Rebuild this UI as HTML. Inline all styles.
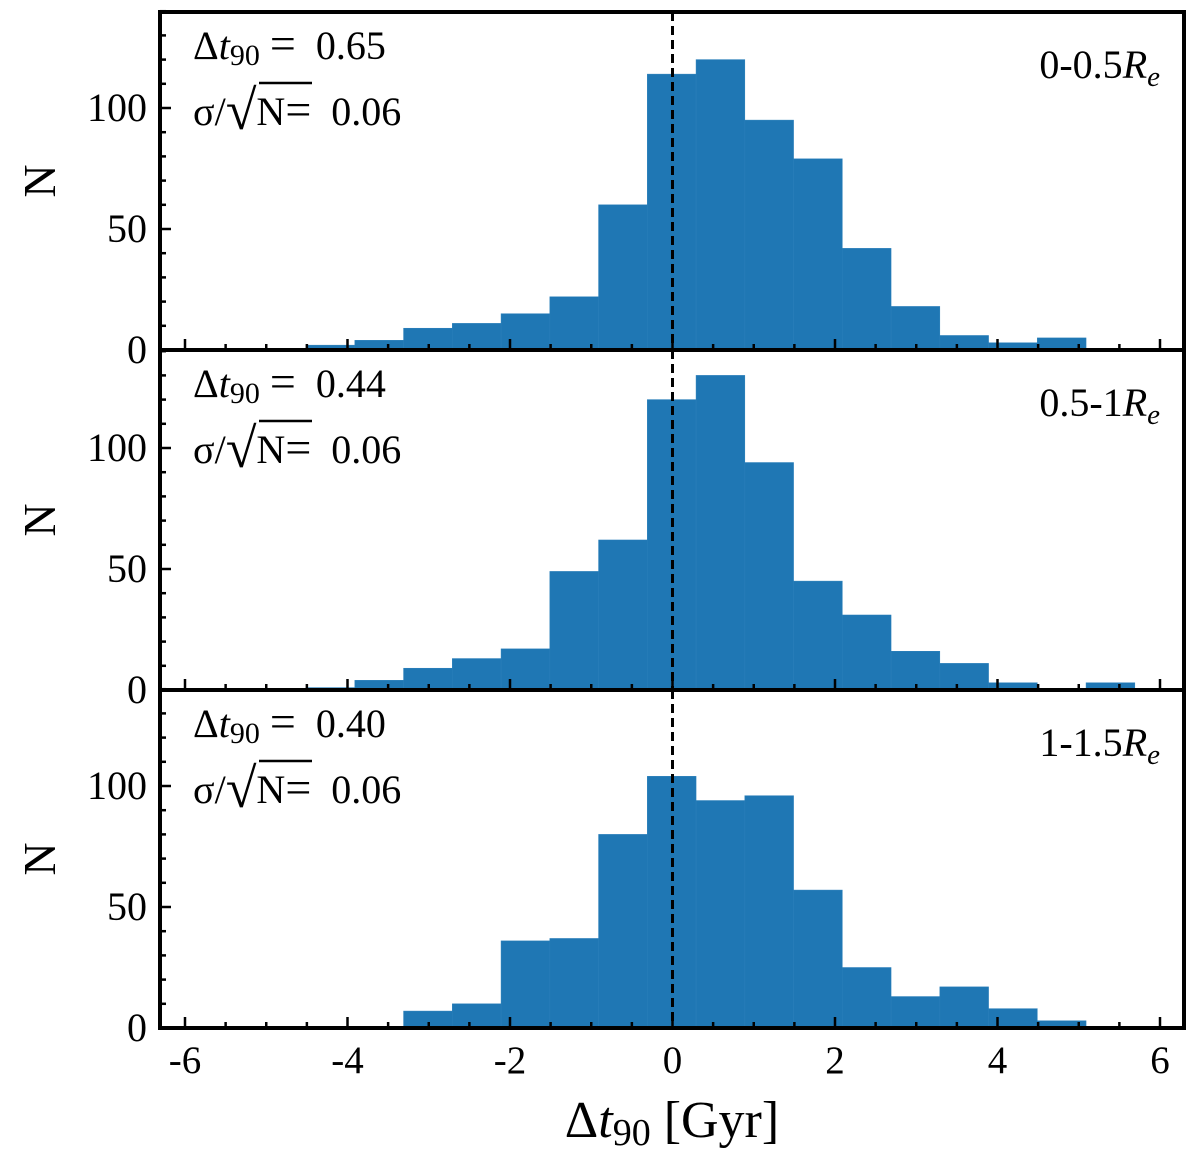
<!DOCTYPE html>
<html><head><meta charset="utf-8"><style>
body{margin:0;background:#fff}
svg text{font-family:"Liberation Serif",serif;fill:#000;white-space:pre}
</style></head><body>
<svg id="c" width="1200" height="1160" xmlns="http://www.w3.org/2000/svg"></svg>
<script>
const binStart = -4.51;
const binWidth = 0.6;
const countsInner = [2,4,9,11,15,22,60,114,120,95,79,42,18,6,3,5];
const countsMid = [1,4,9,13,17,49,62,120,130,94,45,31,16,11,3,0,3];
const countsOuter = [0,0,7,10,36,37,80,104,94,96,57,25,13,17,8,3];
const panelLabels = ["0-0.5","0.5-1","1-1.5"];
const medians = ["0.65","0.44","0.40"];
const errors = ["0.06","0.06","0.06"];
const xTicks = [-6,-4,-2,0,2,4,6];
const yTicks = [0,50,100];

const NS="http://www.w3.org/2000/svg";
const svg=document.getElementById('c');
function mk(t,a,p){const e=document.createElementNS(NS,t);for(const k in a)e.setAttribute(k,a[k]);(p||svg).appendChild(e);return e;}
const X0=160,X1=1184;
const xs=v=>672.5+v*81.25;
const panels=[{top:12,bot:350,data:countsInner},{top:350,bot:690,data:countsMid},{top:690,bot:1028,data:countsOuter}];
const ppu=2.42;
const NB='\u00a0';
panels.forEach((p,i)=>{
  const g=mk('g',{});
  
  
  const ys=v=>p.bot-v*ppu;
  p.data.forEach((c,j)=>{
    if(c<=0)return;
    const x0=xs(binStart+j*binWidth),x1=xs(binStart+(j+1)*binWidth);
    const r=mk('rect',{x:x0,y:ys(c),width:x1-x0,height:c*ppu,fill:'#1f77b4',stroke:'#2a7fba','stroke-width':0.5},g);
    
    
  });
  const d=mk('line',{x1:xs(0),x2:xs(0),y1:p.top,y2:p.bot,stroke:'#000','stroke-width':3,'stroke-dasharray':'9,5'},g);
  
  
  for(let v=-6;v<=6.001;v+=0.5){
    const maj=Math.abs(v%2)<1e-6;
    mk('line',{x1:xs(v),x2:xs(v),y1:p.bot,y2:p.bot-(maj?11:6),stroke:'#000','stroke-width':2.5},g);
  }
  for(let v=0;v<=140;v+=10){
    const maj=v%50===0;
    mk('line',{x1:X0,x2:X0+(maj?11:6),y1:ys(v),y2:ys(v),stroke:'#000','stroke-width':2.5},g);
  }
  yTicks.forEach(v=>{
    const t=mk('text',{x:147,y:ys(v)+13,'font-size':40,'text-anchor':'end'},g);t.textContent=v;
    
    
  });
  const yl=mk('text',{x:0,y:0,'font-size':46,'text-anchor':'middle',transform:`translate(55,${(p.top+p.bot)/2}) rotate(-90)`},g);
  yl.textContent='N';
  
  
  const t1=mk('text',{x:193,y:p.top+47,'font-size':40},g);
  t1.innerHTML=`Δ<tspan font-style="italic">t</tspan><tspan font-size="30" dy="6">90</tspan><tspan dy="-6">${NB}<tspan font-size="46">=</tspan>${NB}${NB}${medians[i]}</tspan>`;
  
  
  const t2=mk('text',{x:193,y:p.top+113,'font-size':40},g);
  t2.innerHTML=`σ/<tspan font-size="56" dy="4">√</tspan><tspan dy="-4">N</tspan><tspan font-size="46">=</tspan><tspan>${NB}${NB}${errors[i]}</tspan>`;
  
  
  mk('line',{x1:259,x2:312,y1:p.top+71,y2:p.top+71,stroke:'#000','stroke-width':2.5},g);
  const t3=mk('text',{x:1160,y:p.top+66,'font-size':40,'text-anchor':'end'},g);
  t3.innerHTML=`${panelLabels[i]}<tspan font-style="italic">R</tspan><tspan font-style="italic" font-size="29" dy="8">e</tspan>`;
  
  
});
mk('rect',{x:X0,y:12,width:X1-X0,height:1016,fill:'none',stroke:'#000','stroke-width':4});
mk('line',{x1:X0,x2:X1,y1:350,y2:350,stroke:'#000','stroke-width':4});
mk('line',{x1:X0,x2:X1,y1:690,y2:690,stroke:'#000','stroke-width':4});
xTicks.forEach(v=>{
  const t=mk('text',{x:xs(v),y:1073,'font-size':39,'text-anchor':'middle'});
  t.textContent=v<0?'-'+Math.abs(v):v;
  
  
});
const xl=mk('text',{x:672,y:1137,'font-size':52,'text-anchor':'middle'});
xl.innerHTML='Δ<tspan font-style="italic">t</tspan><tspan font-size="38" dy="8">90</tspan><tspan dy="-8"> [Gyr]</tspan>';


</script>
</body></html>
